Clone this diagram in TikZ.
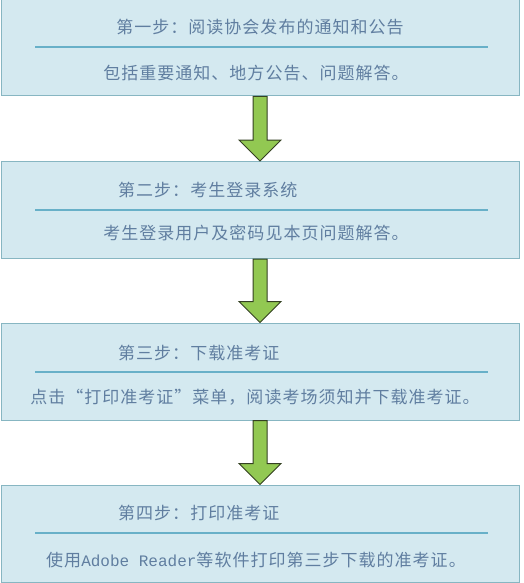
\documentclass[tikz,border=0pt]{standalone}
\usepackage{fontspec}
\newfontfamily\cjk[LetterSpace=6]{Noto Sans CJK SC}
\newfontfamily\monofnt{Liberation Mono}
\usetikzlibrary{calc}
\definecolor{boxfill}{RGB}{212,233,240}
\definecolor{boxedge}{RGB}{135,182,194}
\definecolor{rulecol}{RGB}{104,176,200}
\definecolor{txtcol}{RGB}{96,126,160}
\definecolor{arrfill}{RGB}{146,200,82}
\definecolor{arredge}{RGB}{52,64,34}
\tikzset{
  stepbox/.style={draw=boxedge, line width=1pt, fill=boxfill, minimum width=518pt, minimum height=97pt, inner sep=0pt},
  steptxt/.style={text=txtcol, font=\cjk\fontsize{17}{19}\selectfont, inner sep=0pt},
  steprule/.style={draw=rulecol, line width=2.2pt},
  bigarrow/.style={draw=arredge, line width=1pt, fill=arrfill, line join=miter}
}
\newcommand{\flowarrow}[2]{%
  \draw[bigarrow] ($(#1.south)+(-7,0)$) -- ($(#2.north)+(-7,21)$) -- ($(#2.north)+(-21,21)$) -- (#2.north) -- ($(#2.north)+(21,21)$) -- ($(#2.north)+(7,21)$) -- ($(#1.south)+(7,0)$) -- cycle;}
\begin{document}
\begin{tikzpicture}[x=1pt,y=1pt]
\useasboundingbox (0,0) rectangle (524,-583);
\fill[white] (0,0) rectangle (524,-583);
% boxes
\node[stepbox] (b1) at (260,-47.5) {};
\node[stepbox] (b2) at (260,-210) {};
\node[stepbox] (b3) at (260,-371.5) {};
\node[stepbox] (b4) at (260,-533.5) {};
% rules
\draw[steprule] (35,-47) -- (488,-47);
\draw[steprule] (35,-210) -- (488,-210);
\draw[steprule] (35,-372) -- (488,-372);
\draw[steprule] (35,-533) -- (488,-533);
% titles
\node[steptxt] (t1) at (260,-27) {第一步：阅读协会发布的通知和公告};
\node[steptxt, anchor=west] (t2) at (118,-190) {第二步：考生登录系统};
\node[steptxt, anchor=west] (t3) at (118,-353) {第三步：下载准考证};
\node[steptxt, anchor=west] (t4) at (118,-513) {第四步：打印准考证};
% bodies
\node[steptxt] (d1) at (256,-73) {包括重要通知、地方公告、问题解答。};
\node[steptxt] (d2) at (256,-233) {考生登录用户及密码见本页问题解答。};
\node[steptxt] (d3) at (255,-397) {点击“打印准考证”菜单，阅读考场须知并下载准考证。};
\node[steptxt] (d4) at (256,-560) {使用{\monofnt\fontsize{16}{19}\selectfont Adobe Reader}等软件打印第三步下载的准考证。};
% arrows
\flowarrow{b1}{b2}
\flowarrow{b2}{b3}
\flowarrow{b3}{b4}
\end{tikzpicture}
\end{document}
